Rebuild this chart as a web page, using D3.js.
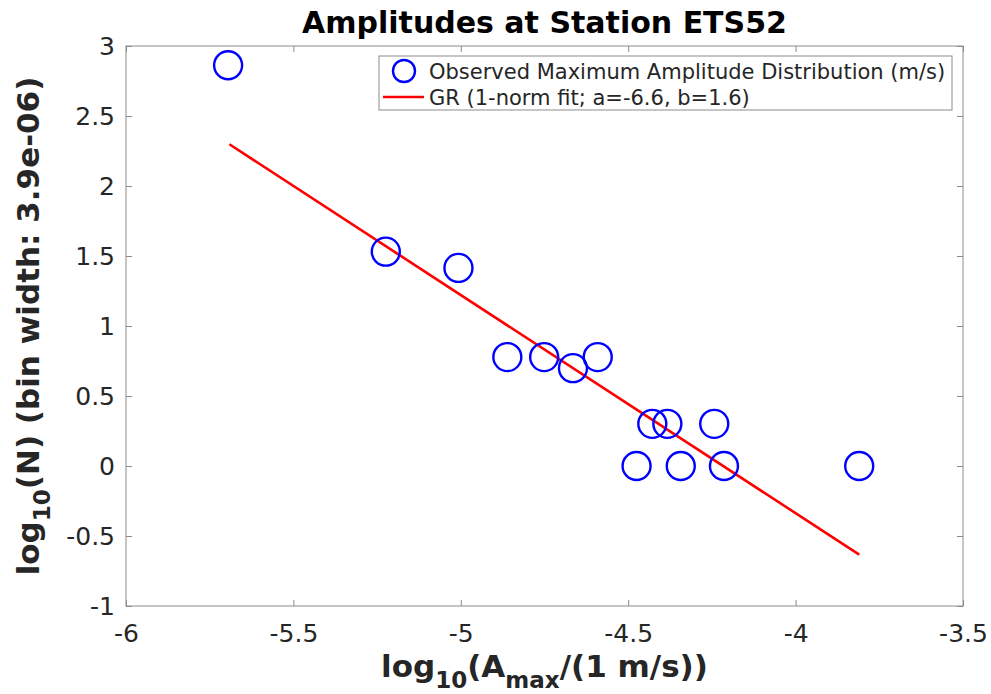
<!DOCTYPE html>
<html>
<head>
<meta charset="utf-8">
<script src="https://cdn.jsdelivr.net/npm/d3@7"></script>
<style>
  body { margin: 0; background: #fff; }
  text { font-family: "DejaVu Sans", sans-serif; }
</style>
</head>
<body>
<div id="chart"></div>
<script>
// observed points: log10(Amax) vs log10(N)
var logA = [-5.695, -5.224, -5.007, -4.861, -4.751, -4.665, -4.591, -4.428, -4.383, -4.243, -4.475, -4.343, -4.214, -3.810];
var logN = [2.863, 1.531, 1.415, 0.778, 0.778, 0.699, 0.778, 0.301, 0.301, 0.301, 0, 0, 0, 0];
// fitted GR line endpoints
var fitX = [-5.691, -3.810];
var fitY = [2.298, -0.633];
var xTicks = [-6, -5.5, -5, -4.5, -4, -3.5];
var yTicks = [-1, -0.5, 0, 0.5, 1, 1.5, 2, 2.5, 3];

var W = 991, H = 694,
    margin = {top: 46, right: 28, bottom: 88, left: 126},
    width = W - margin.left - margin.right,
    height = H - margin.top - margin.bottom;

var svg = d3.select("#chart").append("svg")
    .attr("width", W).attr("height", H);

var g = svg.append("g")
    .attr("transform", "translate(" + margin.left + "," + margin.top + ")");

var x = d3.scaleLinear().domain([-6, -3.5]).range([0, width]);
var y = d3.scaleLinear().domain([-1, 3]).range([height, 0]);

var axisColor = "#8c8c8c", labelColor = "#262626";
var fmt = function(d) { return String(d); };

// axes with inward ticks
function styleAxis(sel) {
  sel.select(".domain").remove();
  sel.selectAll("line").attr("stroke", axisColor);
  sel.selectAll("text").attr("fill", labelColor).style("font-size", "25px");
}

g.append("g")
    .attr("transform", "translate(0," + height + ")")
    .call(d3.axisBottom(x).tickValues(xTicks).tickSizeInner(-6).tickSizeOuter(0).tickPadding(18).tickFormat(fmt))
    .call(styleAxis);

g.append("g")
    .call(d3.axisTop(x).tickValues(xTicks).tickSizeInner(-6).tickSizeOuter(0).tickFormat(""))
    .call(styleAxis);

g.append("g")
    .call(d3.axisLeft(y).tickValues(yTicks).tickSizeInner(-6).tickSizeOuter(0).tickPadding(11).tickFormat(fmt))
    .call(styleAxis);

g.append("g")
    .attr("transform", "translate(" + width + ",0)")
    .call(d3.axisRight(y).tickValues(yTicks).tickSizeInner(-6).tickSizeOuter(0).tickFormat(""))
    .call(styleAxis);

g.append("rect")
    .attr("width", width).attr("height", height)
    .attr("fill", "none").attr("stroke", axisColor).attr("stroke-width", 1);

// fit line
var line = d3.line()
    .x(function(d) { return x(d[0]); })
    .y(function(d) { return y(d[1]); });

g.append("path")
    .datum(d3.zip(fitX, fitY))
    .attr("fill", "none")
    .attr("stroke", "#ff0000")
    .attr("stroke-width", 2.6)
    .attr("d", line);

// points
g.selectAll("circle.pt")
    .data(d3.zip(logA, logN))
  .enter().append("circle")
    .attr("class", "pt")
    .attr("cx", function(d) { return x(d[0]); })
    .attr("cy", function(d) { return y(d[1]); })
    .attr("r", 14)
    .attr("fill", "none")
    .attr("stroke", "#0000ff")
    .attr("stroke-width", 2.4);

// legend
var lg = svg.append("g").attr("transform", "translate(379,56)");
lg.append("rect")
    .attr("width", 573).attr("height", 54)
    .attr("fill", "#fff").attr("stroke", axisColor);
lg.append("circle")
    .attr("cx", 25).attr("cy", 15).attr("r", 11)
    .attr("fill", "none").attr("stroke", "#0000ff").attr("stroke-width", 2.4);
lg.append("line")
    .attr("x1", 4).attr("x2", 45).attr("y1", 41).attr("y2", 41)
    .attr("stroke", "#ff0000").attr("stroke-width", 2.6);
lg.append("text").attr("x", 50).attr("y", 23)
    .style("font-size", "21px").attr("fill", labelColor)
    .text("Observed Maximum Amplitude Distribution (m/s)");
lg.append("text").attr("x", 50).attr("y", 49)
    .style("font-size", "21px").attr("fill", labelColor)
    .text("GR (1-norm fit; a=-6.6, b=1.6)");

// title
svg.append("text")
    .attr("x", margin.left + width / 2).attr("y", 33)
    .attr("text-anchor", "middle")
    .style("font-size", "30px").style("font-weight", "bold")
    .text("Amplitudes at Station ETS52");

// x label
var xl = svg.append("text")
    .attr("x", margin.left + width / 2).attr("y", 677)
    .attr("text-anchor", "middle")
    .style("font-size", "31px").style("font-weight", "bold")
    .attr("fill", labelColor);
xl.append("tspan").text("log");
xl.append("tspan").attr("dy", 11).style("font-size", "23px").text("10");
xl.append("tspan").attr("dy", -11).text("(A");
xl.append("tspan").attr("dy", 11).style("font-size", "23px").text("max");
xl.append("tspan").attr("dy", -11).text("/(1 m/s))");

// y label
var yl = svg.append("text")
    .attr("transform", "translate(39," + (margin.top + height / 2) + ") rotate(-90)")
    .attr("text-anchor", "middle")
    .style("font-size", "31px").style("font-weight", "bold")
    .attr("fill", labelColor);
yl.append("tspan").text("log");
yl.append("tspan").attr("dy", 11).style("font-size", "23px").text("10");
yl.append("tspan").attr("dy", -11).text("(N) (bin width: 3.9e-06)");
</script>
</body>
</html>
